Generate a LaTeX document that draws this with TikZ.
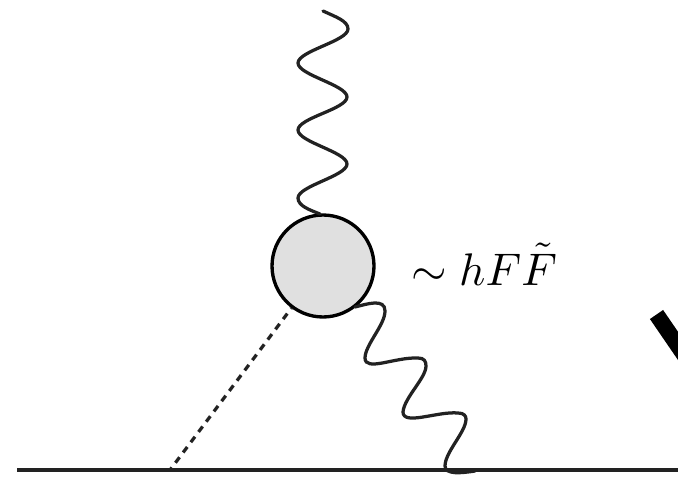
\documentclass[tikz,border=0pt]{standalone}
\definecolor{inkgray}{HTML}{222222}
\definecolor{blobgray}{HTML}{E0E0E0}
\begin{document}
\begin{tikzpicture}[x=0.02cm, y=-0.02cm,
        photon/.style={line width=1.85pt, inkgray, line cap=round},
        fermion/.style={line width=2.2pt, inkgray},
        scalar/.style={line width=1.85pt, inkgray, dash pattern=on 3.9pt off 3.4pt, dash phase=3.4pt},
        blob/.style={circle, draw=black, fill=blobgray, line width=1.9pt, inner sep=0pt, minimum size=2.04cm}]
        \clip (0, 0) rectangle (678, 476);
        \path[use as bounding box] (0, 0) rectangle (678, 476);
        % Effective vertex and outer line
            \node[blob] (vertex) at (323, 266) {};
            \coordinate (lineL) at (17, 470);
            \coordinate (lineR) at (678, 470);
            \coordinate (higgsEnd) at (170, 470);
            \node[scale=2.6] (label) at (484, 264) {$\sim hF\tilde{F}$};
        % Lines
            \draw[fermion] (lineL) -- (lineR);
            \draw[scalar] (vertex) -- (higgsEnd);
        % Upper photon
            \coordinate (a0) at (323, 11);
            \coordinate (a1) at (348, 29);
            \coordinate (a2) at (298, 63);
            \coordinate (a3) at (347, 97);
            \coordinate (a4) at (298, 130);
            \coordinate (a5) at (347, 164);
            \coordinate (a6) at (298, 198);
            \coordinate (a7) at (320, 214);
            \draw[photon] (a0) .. controls (336, 17) and (348, 21) .. (a1)
                .. controls (348, 41) and (298, 51) .. (a2)
                .. controls (298, 75) and (347, 85) .. (a3)
                .. controls (347, 109) and (298, 118) .. (a4)
                .. controls (298, 142) and (347, 152) .. (a5)
                .. controls (347, 176) and (298, 186) .. (a6)
                .. controls (298, 206) and (310, 210) .. (a7);
        % Lower photon
            \coordinate (b0) at (355, 307);
            \coordinate (b1) at (385, 311);
            \coordinate (b2) at (365, 358);
            \coordinate (b3) at (426, 366);
            \coordinate (b4) at (403, 412);
            \coordinate (b5) at (466, 419);
            \coordinate (b6) at (445, 466);
            \coordinate (b7) at (475, 471);
            \draw[photon] (b0) .. controls (367, 304) and (385, 298) .. (b1)
                .. controls (385, 325) and (365, 345) .. (b2)
                .. controls (365, 372) and (395, 357) .. (418, 358)
                .. controls (424, 358) and (426, 361) .. (b3)
                .. controls (426, 378) and (404, 398) .. (b4)
                .. controls (403, 426) and (438, 411) .. (458, 413)
                .. controls (464, 413) and (466, 416) .. (b5)
                .. controls (466, 432) and (445, 452) .. (b6)
                .. controls (445, 475) and (462, 473) .. (b7);
        % Cut-off stroke at the right edge
            \coordinate (slashA) at (656.5, 314.5);
            \coordinate (slashB) at (700, 378);
            \draw[line width=9.1pt, black] (slashA) -- (slashB);
        \end{tikzpicture}
\end{document}
